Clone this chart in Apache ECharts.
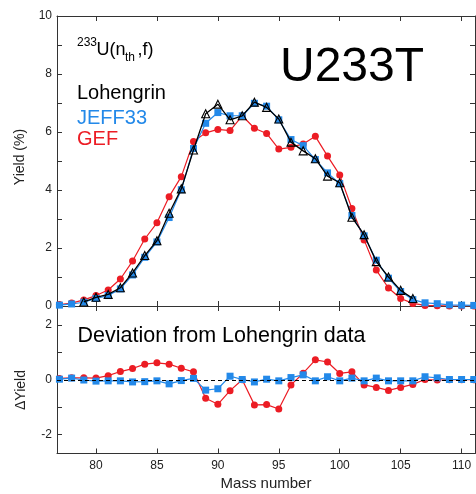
<!DOCTYPE html>
<html><head><meta charset="utf-8">
<script src="https://cdn.jsdelivr.net/npm/echarts@6/dist/echarts.min.js"></script>
<style>html,body{margin:0;padding:0;background:#fff}#c{width:476px;height:494px}</style>
</head><body><div id="c"></div>
<script>
// Mass numbers
var massAll = [77,78,79,80,81,82,83,84,85,86,87,88,89,90,91,92,93,94,95,96,97,98,99,100,101,102,103,104,105,106,107,108,109,110,111];
var massLoh = [79,80,81,82,83,84,85,86,87,88,89,90,91,92,93,94,95,96,97,98,99,100,101,102,103,104,105,106];
// Yields (%)
var lohengrin = [0.14,0.30,0.40,0.63,1.14,1.74,2.25,3.20,4.04,5.38,6.63,6.96,6.42,6.56,7.03,6.85,6.45,5.65,5.35,5.08,4.48,4.25,3.06,2.46,1.53,1.00,0.54,0.26];
var jeff33 = [0.03,0.07,0.13,0.26,0.36,0.59,1.07,1.68,2.21,3.05,4.01,5.43,6.30,6.67,6.56,6.56,6.99,6.89,6.42,5.74,5.53,5.05,4.59,4.22,3.12,2.42,1.58,0.96,0.50,0.22,0.11,0.08,0.04,0.03,0.02];
var gef = [0.05,0.10,0.21,0.36,0.55,0.93,1.55,2.31,2.87,3.77,4.46,5.67,5.97,6.09,6.05,6.56,6.13,5.95,5.41,5.47,5.59,5.85,5.17,4.52,3.36,2.28,1.24,0.62,0.26,0.09,0.02,0.01,0.00,0.00,0.00];
// Deviations from Lohengrin data
var devJeff = [0.02,0.06,-0.01,-0.05,-0.04,-0.04,-0.08,-0.07,-0.04,-0.15,-0.03,0.05,-0.38,-0.33,0.13,0.01,-0.08,0.02,-0.04,0.08,0.18,-0.04,0.11,-0.04,0.06,-0.04,0.06,-0.04,-0.04,-0.04,0.11,0.07,0.01,0.01,0.01];
var devGef = [0.05,0.07,0.07,0.06,0.15,0.30,0.41,0.57,0.62,0.57,0.42,0.29,-0.68,-0.90,-0.40,0.00,-0.92,-0.91,-1.07,-0.19,0.24,0.73,0.65,0.23,0.29,-0.19,-0.28,-0.39,-0.28,-0.17,0.01,-0.01,0.00,0.00,0.00];
// Tick values
var xTicks = [80,85,90,95,100,105,110];
var yTopTicks = [0,1,2,3,4,5,6,7,8,9,10];
var yTopLabels = [0,2,4,6,8,10];
var yBotTicks = [-2,-1,0,1,2];
var yBotLabels = [-2,0,2];

function pairs(xs, ys){ return xs.map(function(x,i){ return [x, ys[i]]; }); }

var BLUE = '#2389e9', RED = '#ec1c24', AX = '#333';
var FONT = 'Liberation Sans, Arial, sans-serif';

function xAx(grid, pos, showLabel){
  return {
    type:'value', gridIndex:grid, position:pos, min:76.8, max:111.1,
    axisLine:{show:true, onZero:false, lineStyle:{color:AX, width:1}},
    axisTick:{show:true, inside:true, length:5, customValues:xTicks, lineStyle:{color:AX}},
    axisLabel:{show:showLabel, customValues:xTicks, margin:6, color:'#222', fontSize:12, fontFamily:FONT},
    splitLine:{show:false}
  };
}
function yAx(grid, pos, min, max, ticks, labels, showLabel){
  return {
    type:'value', gridIndex:grid, position:pos, min:min, max:max,
    axisLine:{show:true, onZero:false, lineStyle:{color:AX, width:1}},
    axisTick:{show:true, inside:true, length:5, customValues:ticks, lineStyle:{color:AX}},
    axisLabel:{show:showLabel, customValues:labels, margin:5, color:'#222', fontSize:12, fontFamily:FONT},
    splitLine:{show:false}
  };
}

var chart = echarts.init(document.getElementById('c'), null, {renderer:'canvas'});
chart.setOption({
  animation:false,
  backgroundColor:'#fff',
  grid:[
    {left:57, right:1, top:16, height:290},
    {left:57, right:1, top:306, height:147.5}
  ],
  xAxis:[
    xAx(0,'bottom',false), xAx(0,'top',false),
    xAx(1,'bottom',true), xAx(1,'top',false)
  ],
  yAxis:[
    yAx(0,'left',0,10,yTopTicks,yTopLabels,true), yAx(0,'right',0,10,yTopTicks,yTopLabels,false),
    yAx(1,'left',-2.7,2.7,yBotTicks,yBotLabels,true), yAx(1,'right',-2.7,2.7,yBotTicks,yBotLabels,false)
  ],
  series:[
    {type:'line', name:'GEF', xAxisIndex:0, yAxisIndex:0, data:pairs(massAll,gef),
     symbol:'circle', symbolSize:7, lineStyle:{color:RED, width:1.2}, itemStyle:{color:RED}, z:2},
    {type:'line', name:'JEFF33', xAxisIndex:0, yAxisIndex:0, data:pairs(massAll,jeff33),
     symbol:'rect', symbolSize:7, lineStyle:{color:BLUE, width:1.2}, itemStyle:{color:BLUE}, z:3},
    {type:'line', name:'Lohengrin', xAxisIndex:0, yAxisIndex:0, data:pairs(massLoh,lohengrin),
     symbol:'triangle', symbolSize:8, lineStyle:{color:'#000', width:1.3},
     itemStyle:{color:'rgba(255,255,255,0)', borderColor:'#000', borderWidth:1.1}, z:4},
    {type:'line', name:'devGEF', xAxisIndex:2, yAxisIndex:2, data:pairs(massAll,devGef),
     symbol:'circle', symbolSize:7, lineStyle:{color:RED, width:1.2}, itemStyle:{color:RED}, z:2,
     markLine:{silent:true, symbol:'none', label:{show:false}, lineStyle:{color:'#000', type:[4,3], width:1},
       data:[{yAxis:0}]}},
    {type:'line', name:'devJEFF', xAxisIndex:2, yAxisIndex:2, data:pairs(massAll,devJeff),
     symbol:'rect', symbolSize:7, lineStyle:{color:BLUE, width:1.2}, itemStyle:{color:BLUE}, z:3}
  ],
  graphic:[
    {type:'text', x:280, y:67.5, style:{text:'U233T', font:'48px '+FONT, fill:'#000', verticalAlign:'middle', align:'left'}},
    {type:'text', x:77, y:42.5, style:{text:'233', font:'12px '+FONT, fill:'#000', verticalAlign:'middle'}},
    {type:'text', x:96.5, y:50, style:{text:'U(n', font:'18px '+FONT, fill:'#000', verticalAlign:'middle'}},
    {type:'text', x:125, y:57.5, style:{text:'th', font:'12px '+FONT, fill:'#000', verticalAlign:'middle'}},
    {type:'text', x:137.5, y:50, style:{text:',f)', font:'18px '+FONT, fill:'#000', verticalAlign:'middle'}},
    {type:'text', x:77, y:93.7, style:{text:'Lohengrin', font:'20px '+FONT, fill:'#000', verticalAlign:'middle'}},
    {type:'text', x:77, y:118.3, style:{text:'JEFF33', font:'20px '+FONT, fill:BLUE, verticalAlign:'middle'}},
    {type:'text', x:77, y:139.5, style:{text:'GEF', font:'20px '+FONT, fill:RED, verticalAlign:'middle'}},
    {type:'text', x:77.5, y:335.8, style:{text:'Deviation from Lohengrin data', font:'21.5px '+FONT, fill:'#000', verticalAlign:'middle'}},
    {type:'text', x:20, y:157, rotation:Math.PI/2, style:{text:'Yield (%)', font:'14px '+FONT, fill:'#222', align:'center', verticalAlign:'middle'}},
    {type:'text', x:21.5, y:390, rotation:Math.PI/2, style:{text:'\u0394Yield', font:'14px '+FONT, fill:'#222', align:'center', verticalAlign:'middle'}},
    {type:'text', x:266, y:484, style:{text:'Mass number', font:'15px '+FONT, fill:'#222', align:'center', verticalAlign:'middle'}}
  ]
});
</script>
</body></html>
